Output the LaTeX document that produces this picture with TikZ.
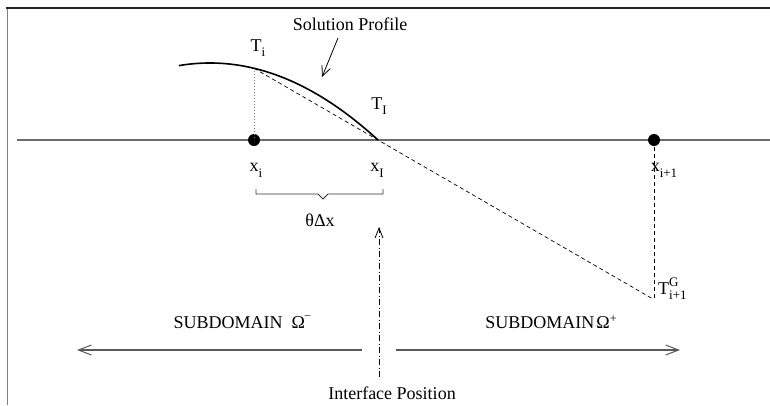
\documentclass[tikz,border=0pt]{standalone}
\usepackage{fontspec}
\setmainfont{Liberation Serif}
\usetikzlibrary{arrows.meta}
\newcommand{\lowsub}[1]{\raisebox{-0.32em}{\fontsize{13}{13}\selectfont #1}}
\newcommand{\supsub}[2]{\rlap{\raisebox{0.42em}{\fontsize{13}{13}\selectfont #1}}\raisebox{-0.32em}{\fontsize{13}{13}\selectfont #2}}
\tikzset{
  lbl/.style={inner sep=0pt},
  frameline/.style={draw=black!85, line width=1.2pt},
  sideline/.style={draw=gray, line width=1pt},
  axisline/.style={draw=gray!85!black, line width=1.6pt},
  profile/.style={draw=black, line width=1.6pt},
  dashln/.style={draw=black, line width=0.7pt, dash pattern=on 4pt off 3pt},
  dotln/.style={draw=gray, line width=0.8pt, dash pattern=on 1pt off 2pt},
  dashdot/.style={draw=black, line width=0.7pt, dash pattern=on 6pt off 2.5pt on 1pt off 2.5pt},
  gridpt/.style={circle, fill=black, inner sep=0pt, minimum size=12pt},
  barb/.style={-{Straight Barb[length=10pt,width=9pt,line width=0.8pt]}},
  domarrow/.style={draw=gray!70!black, line width=1.2pt, -{Straight Barb[length=13pt,width=10pt,line width=1pt]}}
}
\begin{document}
\begin{tikzpicture}[x=1pt,y=-1pt,font=\fontsize{18}{20}\selectfont]
\useasboundingbox (0,0) rectangle (770,405);
% frame
\coordinate (ftl) at (7,8);
\coordinate (ftr) at (770,8);
\coordinate (fbl) at (7,405);
\draw[sideline] (ftl) -- (fbl);
\draw[frameline] (6,8) -- (ftr);
% axis
\coordinate (axl) at (17,140);
\coordinate (axr) at (770,140);
\draw[axisline] (axl) -- (axr);
% key points
\coordinate (Ti) at (254,68.3);
\coordinate (TI) at (378,140);
\coordinate (Tg) at (654,299.6);
\coordinate (cs) at (179,65.6);
\node[gridpt] (xi) at (254,140) {};
\node[gridpt] (xip) at (654,140) {};
% profile curve
\draw[profile] (cs) .. controls (245.3,54.4) and (311.7,79.2) .. (TI);
% dotted / dashed lines
\draw[dotln] (Ti) -- (xi.center);
\draw[dashln] (Ti) -- (TI) -- (Tg);
\draw[dashln] (xip.center) -- (Tg);
% labels
\node[lbl] (lTi) at (258,48) {T\lowsub{i}};
\node[lbl] (lTI) at (379,106) {T\lowsub{I}};
\node[lbl] (lxi) at (256,170) {x\lowsub{i}};
\node[lbl] (lxI) at (377,170) {x\lowsub{I}};
\node[lbl] (lxip) at (664,170) {x\lowsub{i+1}};
\node[lbl, anchor=west] (lTg) at (658,289) {T\supsub{G}{i+1}};
% solution profile
\node[lbl] (sp) at (350,24) {Solution Profile};
\coordinate (spa) at (338,38);
\coordinate (spb) at (322,77);
\draw[barb, line width=0.8pt] (spa) -- (spb);
% brace
\draw[draw=black!80, line width=0.9pt] (256,189) -- (256,194) -- (318,194) -- (323,199) -- (328,194) -- (383,194) -- (383,189);
\node[lbl] (th) at (320,220) {θΔx};
% interface arrow
\node[lbl] (ip) at (392,393) {Interface Position};
\coordinate (ipb) at (379,377);
\coordinate (ipt) at (379,227);
\draw[dashdot, -{Straight Barb[length=10pt,width=8pt,line width=0.8pt]}] (ipb) -- (ipt);
% subdomains
\node[lbl] (sdm) at (242,322) {SUBDOMAIN\ \ Ω\raisebox{0.55em}{\fontsize{11}{11}\selectfont –}};
\node[lbl] (sdp) at (551,322) {SUBDOMAIN\hspace{0.12em}Ω\raisebox{0.35em}{\fontsize{12}{12}\selectfont +}};
\coordinate (lal) at (77,350);
\coordinate (lar) at (362,350);
\coordinate (ral) at (396,350);
\coordinate (rar) at (680,350);
\draw[domarrow] (lar) -- (lal);
\draw[domarrow] (ral) -- (rar);
\end{tikzpicture}
\end{document}
